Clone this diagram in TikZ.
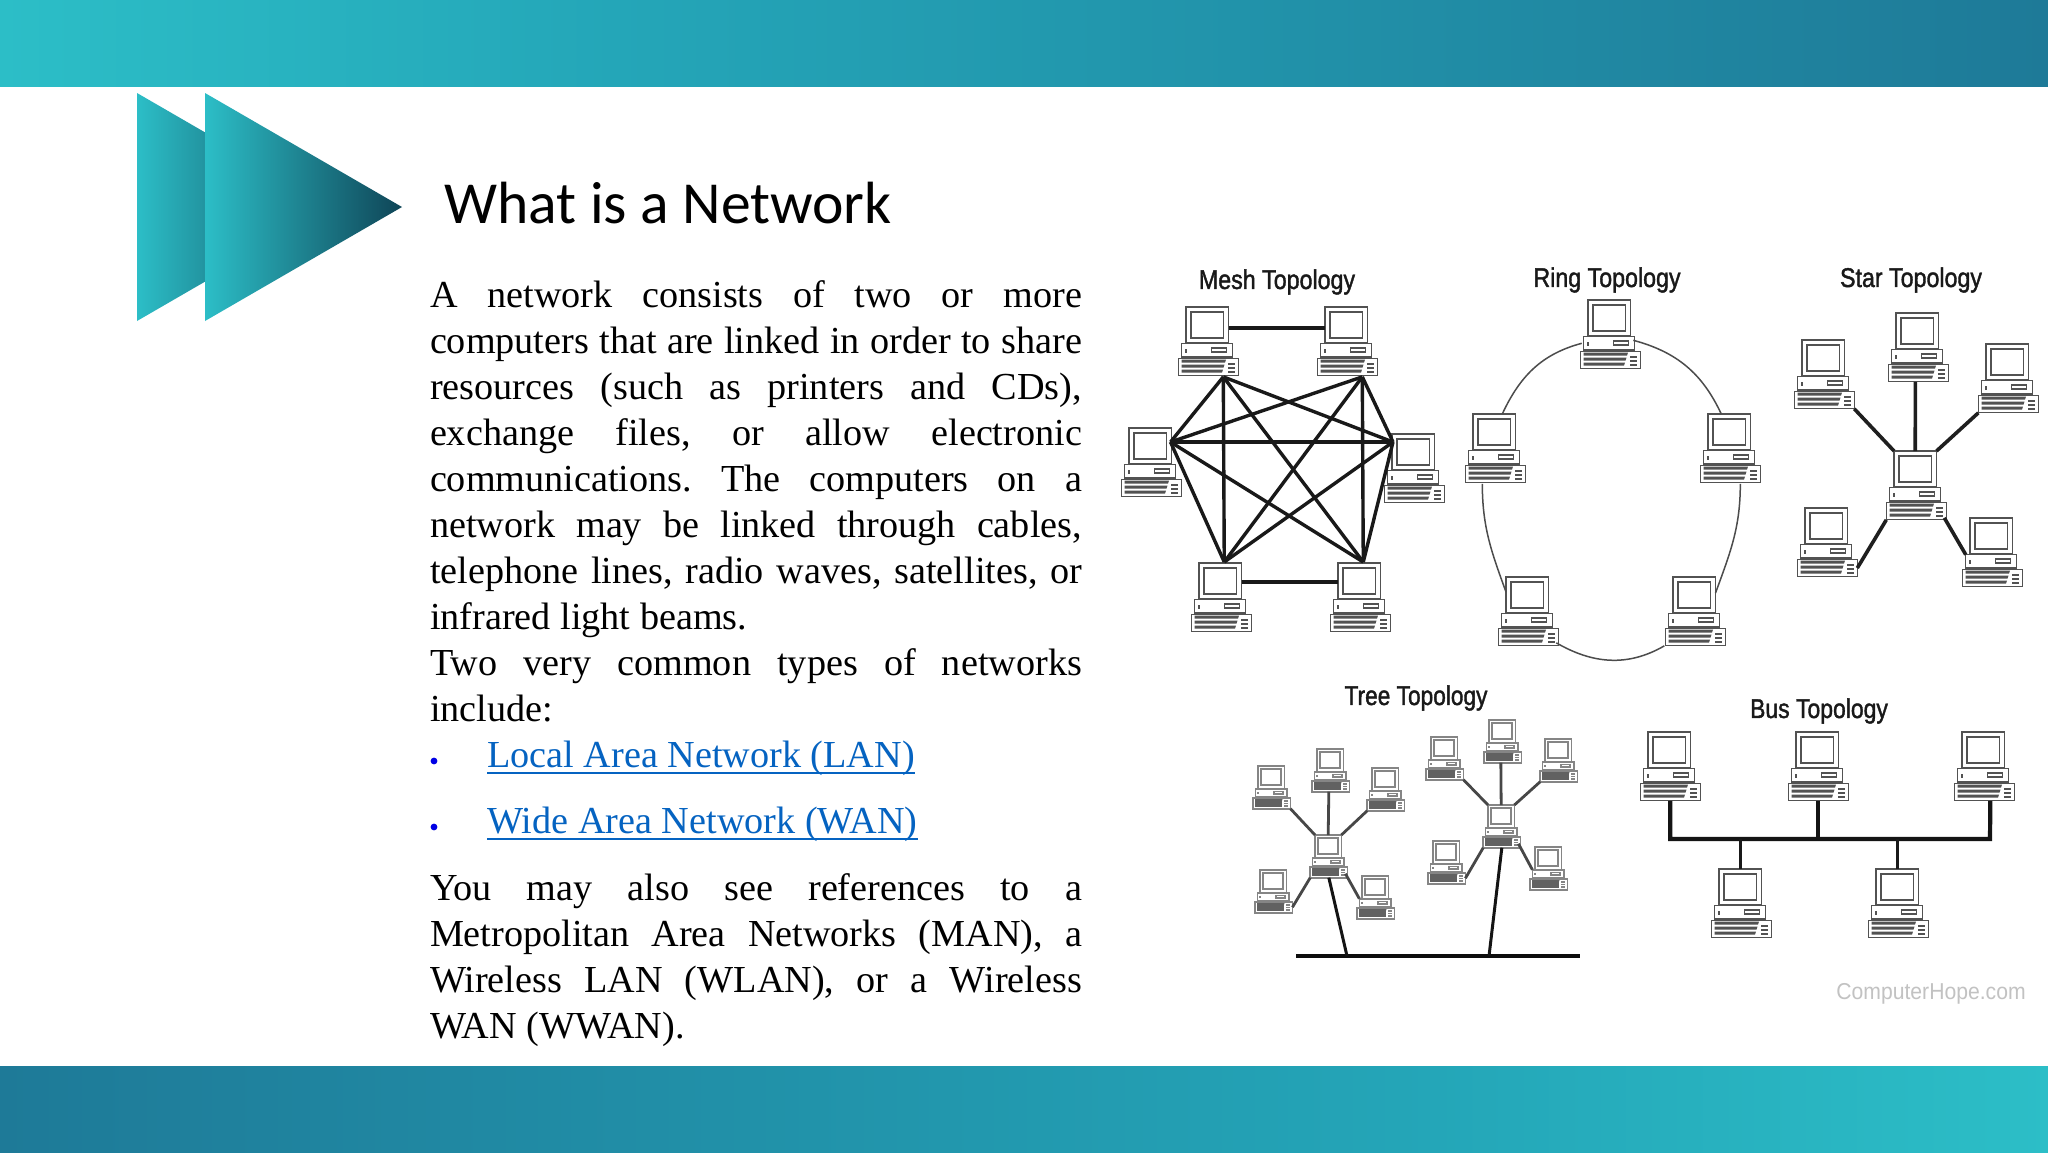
\documentclass[tikz,border=0pt]{standalone}
\usepackage{fontspec}
\setmainfont{Liberation Serif}
\newfontfamily\titlefont{Carlito}
\newfontfamily\labfont[FakeBold=1.6]{Liberation Sans}
\newfontfamily\wmfont{Liberation Sans}
\usetikzlibrary{calc}
\definecolor{tealA}{HTML}{2CBEC7}
\definecolor{tealB}{HTML}{24A6B8}
\definecolor{tealC}{HTML}{1E7A98}
\definecolor{tealD}{HTML}{1F8696}
\definecolor{tealE}{HTML}{0F4557}
\definecolor{linkc}{HTML}{0563C1}
\pgfdeclarehorizontalshading{topbar}{100bp}{color(0bp)=(tealA); color(25bp)=(tealA); color(40bp)=(tealB); color(75bp)=(tealC); color(100bp)=(tealC)}
\pgfdeclarehorizontalshading{botbar}{100bp}{color(0bp)=(tealC); color(25bp)=(tealC); color(60bp)=(tealB); color(75bp)=(tealA); color(100bp)=(tealA)}
\newcommand{\lab}[2]{\scalebox{#1}[1]{#2}}
\tolerance=9999
\hyphenpenalty=10000
\frenchspacing
\tikzset{
  x=0.5pt,y=-0.5pt,
  bodytext/.style={anchor=north west,inner sep=0pt,outer sep=0pt,text width=326pt,align=justify,
     font=\fontsize{19.1}{23}\selectfont},
  linktext/.style={anchor=base west,inner sep=0pt,text=linkc,font=\fontsize{19.1}{23}\selectfont},
  linkrule/.style={draw=linkc,line width=0.9pt},
  bulletdot/.style={circle,fill=blue!90!black,inner sep=0pt,minimum size=3.4pt},
  toplabel/.style={inner sep=0pt,text=black!90,font=\labfont\fontsize{13.5}{15}\selectfont},
  pcedge/.style={draw=pccol,line width=0.55pt},
  pcpart/.style={rectangle,draw=pccol,fill=white,line width=0.55pt,inner sep=0pt,outer sep=0pt,transform shape},
  pcblock/.style={},
  pc/.pic={
    \node[pcpart,minimum width=21.25pt,minimum height=18pt] (-mon) at (21.25,18) {};
    \draw[pcedge] (5,5) rectangle (37.5,31);
    \node[pcpart,minimum width=25.3pt,minimum height=6.7pt] (-sys) at (21,43.3) {};
    \draw[pcedge] (25.7,41) rectangle (40.7,45);
    \fill[pccol] (-1,42) rectangle (1,45.5);
    \node[pcpart,minimum width=30pt,minimum height=8.85pt] (-kb) at (22.3,60) {};
    \fill[pccol] (-4.5,52.5) -- (40,52.5) -- (39,55.5) -- (-4.5,55.5) -- cycle;
    \fill[pccol] (-4.5,57.5) -- (38.5,57.5) -- (37.5,60.5) -- (-4.5,60.5) -- cycle;
    \fill[pccol] (-4.5,62.5) -- (37,62.5) -- (36,65.5) -- (-4.5,65.5) -- cycle;
    \path[pcblock] (-4.5,52.5) rectangle (38,65.5);
    \fill[pccol] (42,55.5) rectangle (49,57.5);
    \fill[pccol] (42,59.5) rectangle (49,61.5);
    \fill[pccol] (42,63.5) rectangle (49,65.5);
  },
  mesh/.style={line width=1.7pt,black!90},
  thinring/.style={line width=0.75pt,black!70},
  starline/.style={line width=1.8pt,black!88},
  treeline/.style={line width=1.4pt,black!72},
  busline/.style={line width=2.1pt,black!92},
}
\colorlet{pccol}{black!68}
\begin{document}
\begin{tikzpicture}
\useasboundingbox (0,0) rectangle (2048,1152);
\fill[white] (0,0) rectangle (2048,1152);
% bars
\shade[shading=topbar] (0,0) rectangle (2048,86);
\shade[shading=botbar] (0,1066) rectangle (2048,1152);
% arrows
\shade[left color=tealA,right color=tealE] (137,93) -- (334,207) -- (137,321) -- cycle;
\shade[left color=tealA,middle color=tealD,right color=tealE] (205,93) -- (402,207) -- (205,321) -- cycle;
% title
\node[anchor=base west,inner sep=0pt,font=\titlefont\fontsize{29.8}{34}\selectfont] (title) at (444,223) {What is a Network};
% body
\node[bodytext] (para1) at (430,275) {\strut A network consists of two or more\linebreak
computers that are linked in order to share\linebreak
resources (such as printers and CDs),\linebreak
exchange files, or allow electronic\linebreak
communications. The computers on a\linebreak
network may be linked through cables,\linebreak
telephone lines, radio waves, satellites, or\linebreak
infrared light beams.\par
Two very common types of networks\linebreak
include:\strut};
\node[bulletdot] (bul1) at (434,761) {};
\node[bulletdot] (bul2) at (434,827) {};
\node[linktext] (lan) at (487,767) {Local Area Network (LAN)};
\node[linktext] (wan) at (487,833) {Wide Area Network (WAN)};
\draw[linkrule] ($(lan.base west)+(0,6)$) -- ($(lan.base east)+(0,6)$);
\draw[linkrule] ($(wan.base west)+(0,6)$) -- ($(wan.base east)+(0,6)$);
\node[bodytext] (para3) at (430,868) {\strut You may also see references to a\linebreak
Metropolitan Area Networks (MAN), a\linebreak
Wireless LAN (WLAN), or a Wireless\linebreak
WAN (WWAN).\strut};
% labels
\node[toplabel] (lmesh) at (1277,282) {\lab{.86}{Mesh Topology}};
\node[toplabel] (lring) at (1607,280) {\lab{.86}{Ring Topology}};
\node[toplabel] (lstar) at (1911,280) {\lab{.86}{Star Topology}};
\node[toplabel] (ltree) at (1416,698) {\lab{.84}{Tree Topology}};
\node[toplabel] (lbus) at (1819,711) {\lab{.85}{Bus Topology}};
\node[inner sep=0pt,text=black!24,font=\wmfont\fontsize{11.5}{14}\selectfont] (wm) at (1931,994) {\lab{.92}{ComputerHope.com}};
% mesh
\foreach \n/\px/\py in {m1/1186/307,m2/1325/307,m3/1129/428,m4/1392/434,m5/1199/563,m6/1338/563}
  \pic (\n) at (\px,\py) {pc};
\coordinate (mA) at ($(m1-kb.south)+(15,1)$);
\coordinate (mB) at ($(m2-kb.south)+(15,1)$);
\coordinate (mC) at ($(m3-mon.east)+(-1,-4)$);
\coordinate (mD) at ($(m4-mon.west)+(1,-10)$);
\coordinate (mE) at ($(m5-mon.north)+(4,-1)$);
\coordinate (mF) at ($(m6-mon.north)+(4,-1)$);
\foreach \a/\b in {mA/mC,mA/mD,mA/mE,mA/mF,mB/mC,mB/mD,mB/mE,mB/mF,mC/mD,mC/mE,mC/mF,mD/mE,mD/mF}
  \draw[mesh] (\a) -- (\b);
\draw[mesh] ($(m1-mon.east)+(0,3)$) -- ($(m2-mon.west)+(0,3)$);
\draw[mesh] ($(m5-mon.east)+(0,1)$) -- ($(m6-mon.west)+(0,1)$);
% ring and star
\foreach \n/\px/\py in {r1/1588/300,r2/1473/414,r3/1708/414,r4/1506/577,r5/1673/577,
    s0/1894/451,s1/1896/313,s2/1802/340,s3/1986/344,s4/1805/508,s5/1970/518}
  \pic (\n) at (\px,\py) {pc};
\draw[thinring] ($(r1-sys.west)+(-2,0)$) to[out=195,in=65] ($(r2-mon.north)+(8,0)$);
\draw[thinring] ($(r1-sys.east)+(-1,-3)$) to[out=-15,in=115] ($(r3-mon.north)+(-8,0)$);
\draw[thinring] ($(r2-kb.south)+(-13,1)$) to[out=-90,in=110] ($(r4-mon.west)+(0,-3)$);
\draw[thinring] ($(r3-kb.south)+(10,1)$) to[out=-90,in=70] ($(r5-mon.east)+(0,-2)$);
\draw[thinring] ($(r4-kb.south east)+(-2,-3)$) to[out=-30,in=210] ($(r5-kb.south west)+(-1,0)$);
\draw[starline] (s1-kb.south) ++(-3,0) -- (s0-mon.north);
\draw[starline] (s2-kb.south east) -- (s0-mon.north west);
\draw[starline] (s3-kb.south west) -- (s0-mon.north east);
\draw[starline] (s4-kb.east) -- (s0-kb.south west);
\draw[starline] (s5-sys.north west) -- ($(s0-kb.south east)+(-2,-2)$);
% tree
\begin{scope}[every pic/.style={scale=.62},
   pcedge/.append style={line width=.8pt},pcpart/.append style={line width=.8pt},
   pcblock/.style={fill=black!62}]
\colorlet{pccol}{black!48}
\foreach \n/\px/\py in {t0/1315/835,t1/1317/749,t2/1258/766,t3/1372/768,t4/1260/870,t5/1362/876,
    u0/1488/805,u1/1489/720,u2/1431/737,u3/1545/739,u4/1433/841,u5/1535/847}
  \pic (\n) at (\px,\py) {pc};
\end{scope}
\foreach \c in {t,u}{
  \draw[treeline] (\c1-kb.south) ++(-2,0) -- (\c0-mon.north);
  \draw[treeline] (\c2-kb.south east) -- (\c0-mon.north west);
  \draw[treeline] (\c3-kb.south west) -- (\c0-mon.north east);
  \draw[treeline] (\c4-kb.east) -- (\c0-kb.south west);
  \draw[treeline] (\c5-sys.north west) -- ($(\c0-kb.south east)+(-2,-4)$);
}
\coordinate (tbL) at (1296,956);
\coordinate (tbR) at (1580,956);
\coordinate (tbA) at (1347,956);
\coordinate (tbB) at (1489,956);
\draw[line width=2.2pt,black!95] (tbL) -- (tbR);
\draw[line width=1.5pt,black!92] (t0-kb.south) -- (tbA);
\draw[line width=1.5pt,black!92] (u0-kb.south) -- (tbB);
% bus
\foreach \n/\px/\py in {b1/1648/732,b2/1796/732,b3/1962/732,b4/1719/869,b5/1876/869}
  \pic (\n) at (\px,\py) {pc};
\coordinate (busE) at (1990,839);
\draw[busline] (b1-kb.south) |- (busE) -- ($(b3-kb.south)+(6,0)$);
\draw[busline] (b2-kb.south) -- (b2-kb.south |- busE);
\draw[line width=1.5pt,black!90] (b4-mon.north) -- (b4-mon.north |- busE);
\draw[line width=1.5pt,black!90] (b5-mon.north) -- (b5-mon.north |- busE);
\end{tikzpicture}
\end{document}
